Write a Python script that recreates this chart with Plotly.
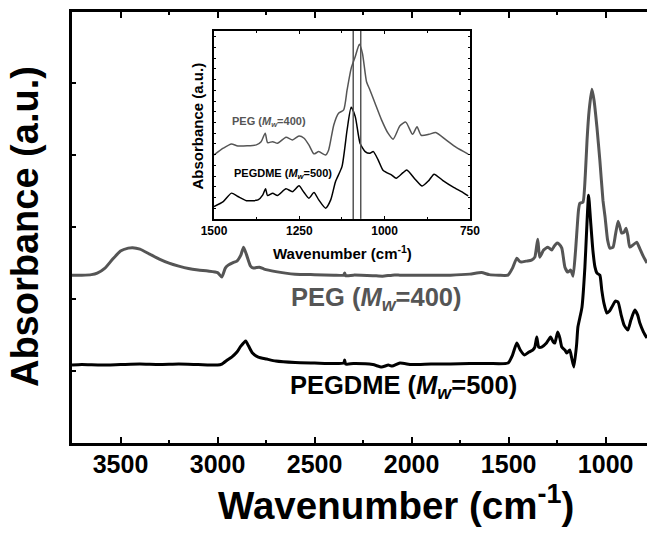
import plotly.graph_objects as go

# ---------------- main spectra (wavenumber, absorbance a.u.) ----------------
peg_wn = [3750, 3700, 3650, 3620, 3580, 3540, 3500, 3460, 3438, 3400, 3350, 3300, 3250, 3200, 3150,
          3100, 3050, 3000, 2978, 2960, 2945, 2920, 2900, 2880, 2866, 2850, 2830, 2815, 2800, 2785,
          2760, 2700, 2650, 2600, 2500, 2400, 2350, 2345, 2340, 2300, 2200, 2150, 2100, 2060, 2000,
          1900, 1800, 1700, 1640, 1600, 1550, 1503, 1480, 1458, 1445, 1434, 1410, 1382, 1365, 1350,
          1340, 1320, 1298, 1278, 1265, 1252, 1240, 1226, 1210, 1195, 1180, 1168, 1155, 1140, 1133,
          1117, 1105, 1096, 1085, 1071, 1060, 1045, 1030, 1014, 1003, 990, 978, 962, 950, 936,
          925, 918, 905, 895, 886, 876, 860, 840, 825, 809, 787]
peg_px = [275, 275, 274.5, 273, 268, 259, 251, 248, 247.5, 249, 254, 259, 263, 266, 268.5,
          270, 271, 272.5, 277, 268, 265, 262.5, 261, 255, 247, 255, 266, 268, 267.5, 267,
          269, 271.5, 273, 274, 274.5, 275, 275, 273, 275.5, 275, 275.5, 276, 275, 275, 275,
          275, 275, 274, 272.5, 274.5, 275, 275, 268, 258, 261, 262, 261, 260, 257, 239,
          257, 250, 247, 250, 246, 243, 244, 248, 267, 272, 270, 276, 250, 210, 203,
          202, 175, 140, 110, 89, 100, 127, 160, 200, 217, 240, 248, 247, 235, 221,
          228, 233, 232, 228, 235, 247, 245, 242, 248, 255, 263]
peg_abs = [round((443 - p) / 72.0, 3) for p in peg_px]

pegdme_wn = [3750, 3700, 3600, 3500, 3400, 3300, 3200, 3100, 3000, 2978, 2950, 2927, 2900, 2880, 2855,
             2840, 2820, 2790, 2747, 2700, 2600, 2500, 2400, 2350, 2345, 2340, 2300, 2200, 2155, 2120,
             2100, 2060, 2000, 1900, 1800, 1700, 1600, 1503, 1480, 1458, 1440, 1418, 1395, 1376, 1365,
             1355, 1345, 1330, 1305, 1284, 1270, 1262, 1247, 1236, 1226, 1210, 1200, 1185, 1175, 1164,
             1150, 1143, 1130, 1122, 1107, 1098, 1088, 1078, 1066, 1055, 1045, 1030, 1020, 1009, 994,
             980, 968, 950, 936, 920, 905, 886, 870, 850, 835, 824, 805, 787]
pegdme_px = [365, 364.5, 365, 364.5, 364, 364.5, 364, 364.5, 365, 364, 360, 357, 352, 346, 341,
             346, 353, 357, 359, 361, 362.5, 363, 363.5, 363, 360, 364, 363.5, 364.5, 367, 365,
             366, 363, 364.5, 364, 364, 363.5, 363.5, 363, 355, 343, 350, 355, 352, 350, 347,
             337, 347, 347, 343, 337, 342, 343, 332, 338, 347, 350, 353, 350, 358, 367,
             345, 327, 315, 307, 267, 230, 195, 220, 250, 267, 273, 275, 290, 303, 313,
             311, 307, 301, 302, 315, 325, 330, 320, 310, 315, 323, 332, 338]
pegdme_abs = [round((443 - p) / 72.0, 3) for p in pegdme_px]

# ---------------- inset spectra (1500-750 cm-1) ----------------
ins_peg_wn = [1500, 1473, 1449, 1430, 1376, 1362, 1350, 1343, 1328, 1314, 1289, 1270, 1251, 1236, 1222,
              1207, 1193, 1173, 1164, 1149, 1135, 1120, 1110, 1098, 1086, 1074, 1065, 1053, 1043, 1028,
              1009, 990, 975, 955, 938, 918, 905, 893, 870, 850, 820, 790, 755]
ins_peg_abs = [3.40, 3.76, 3.99, 3.88, 3.94, 4.11, 4.56, 4.06, 4.11, 4.02, 4.34, 4.20, 4.41, 4.29, 3.94,
               3.46, 3.58, 3.40, 3.67, 5.00, 5.62, 5.80, 6.86, 8.01, 8.64, 9.29, 8.81, 7.30, 6.86, 6.15,
               5.27, 4.56, 4.24, 4.95, 5.15, 4.50, 4.90, 4.45, 4.50, 4.60, 4.20, 3.80, 3.45]

ins_pegdme_wn = [1500, 1473, 1449, 1430, 1405, 1371, 1357, 1349, 1343, 1328, 1314, 1289, 1270, 1251, 1236,
                 1222, 1207, 1193, 1173, 1158, 1144, 1125, 1110, 1098, 1086, 1072, 1057, 1043, 1033, 1019,
                 1004, 980, 966, 946, 935, 910, 890, 870, 855, 830, 800, 770, 755]
ins_pegdme_abs = [0.66, 0.92, 1.37, 1.19, 0.97, 1.01, 1.28, 1.60, 1.24, 1.37, 1.24, 1.60, 1.45, 1.76, 1.40,
                  1.10, 1.40, 1.01, 0.57, 1.01, 1.98, 2.78, 4.73, 5.94, 5.44, 4.02, 3.58, 3.49, 3.58, 3.14,
                  2.57, 2.34, 2.16, 2.46, 2.60, 2.10, 1.75, 2.05, 2.38, 2.05, 1.70, 1.40, 1.22]

marker_lines = [1092, 1070]

x_ticks = [3500, 3000, 2500, 2000, 1500, 1000]
inset_ticks = [1500, 1250, 1000, 750]

GRAY = "#555555"
FONT = "Liberation Sans, Arial, sans-serif"

fig = go.Figure()
fig.add_trace(go.Scatter(x=peg_wn, y=peg_abs, mode="lines",
                         line=dict(color=GRAY, width=3, shape="spline", smoothing=0.5),
                         showlegend=False, xaxis="x", yaxis="y", cliponaxis=True))
fig.add_trace(go.Scatter(x=pegdme_wn, y=pegdme_abs, mode="lines",
                         line=dict(color="black", width=3, shape="spline", smoothing=0.5),
                         showlegend=False, xaxis="x", yaxis="y", cliponaxis=True))
fig.add_trace(go.Scatter(x=ins_peg_wn, y=ins_peg_abs, mode="lines",
                         line=dict(color=GRAY, width=1.5, shape="spline", smoothing=0.6),
                         showlegend=False, xaxis="x2", yaxis="y2"))
fig.add_trace(go.Scatter(x=ins_pegdme_wn, y=ins_pegdme_abs, mode="lines",
                         line=dict(color="black", width=1.5, shape="spline", smoothing=0.6),
                         showlegend=False, xaxis="x2", yaxis="y2"))

for wn in marker_lines:
    fig.add_shape(type="line", xref="x2", yref="y2 domain", x0=wn, x1=wn, y0=0, y1=1,
                  line=dict(color=GRAY, width=1.5))

fig.update_layout(
    width=647, height=533, autosize=False,
    margin=dict(l=72, r=0, t=12, b=90, pad=0, autoexpand=False),
    paper_bgcolor="white", plot_bgcolor="white",
    font=dict(family=FONT, color="black"),
    xaxis=dict(range=[3750, 787], domain=[0, 1], tickvals=x_ticks, automargin=False,
               ticktext=[f"<b>{v}</b>" for v in x_ticks], ticklabelstandoff=-3,
               tickfont=dict(size=25, family=FONT), ticks="inside", ticklen=6, tickwidth=2,
               tickcolor="black", minor=dict(dtick=250, ticks="inside", ticklen=3, tickwidth=2, tickcolor="black"),
               showline=True, linewidth=3, linecolor="black", mirror="ticks",
               showgrid=False, zeroline=False),
    yaxis=dict(range=[0, 5.99], domain=[0, 1], dtick=1, showticklabels=False, automargin=False,
               ticks="inside", ticklen=4, tickwidth=2, tickcolor="black",
               showline=True, linewidth=3, linecolor="black", mirror=False,
               showgrid=False, zeroline=False),
    xaxis2=dict(range=[1500, 750], domain=[0.247, 0.692], anchor="y2", tickvals=inset_ticks,
                ticktext=[f"<b>{v}</b>" for v in inset_ticks], automargin=False,
                tickfont=dict(size=12, family=FONT), ticks="inside", ticklen=3, tickwidth=1,
                tickcolor="black", minor=dict(dtick=125, ticks="inside", ticklen=2, tickwidth=1, tickcolor="black"),
                showline=True, linewidth=1.5, linecolor="black", mirror="ticks",
                showgrid=False, zeroline=False),
    yaxis2=dict(range=[0, 10], domain=[0.520, 0.956], anchor="x2", dtick=0.57, showticklabels=False,
                automargin=False,
                ticks="inside", ticklen=2, tickwidth=1, tickcolor="black",
                showline=True, linewidth=1.5, linecolor="black", mirror="ticks",
                showgrid=False, zeroline=False),
)

annotations = [
    dict(text="<b>Wavenumber (cm<sup>-1</sup>)</b>", x=0.563, y=-0.139, xref="paper", yref="paper",
         xanchor="center", yanchor="middle", showarrow=False, font=dict(size=38.5, family=FONT)),
    dict(text="<b>Absorbance (a.u.)</b>", x=-0.082, y=0.503, xref="paper", yref="paper",
         xanchor="center", yanchor="middle", textangle=-90, showarrow=False, font=dict(size=38, family=FONT)),
    dict(text="<b>PEG (<i>M</i><sub><i>w</i></sub>=400)</b>", x=0.377, y=0.334, xref="paper", yref="paper",
         xanchor="left", yanchor="middle", showarrow=False, font=dict(size=25.5, family=FONT, color=GRAY)),
    dict(text="<b>PEGDME (<i>M</i><sub><i>w</i></sub>=500)</b>", x=0.375, y=0.13, xref="paper", yref="paper",
         xanchor="left", yanchor="middle", showarrow=False, font=dict(size=25.5, family=FONT)),
    dict(text="<b>Wavenumber (cm<sup>-1</sup>)</b>", x=0.47, y=0.443, xref="paper", yref="paper",
         xanchor="center", yanchor="middle", showarrow=False, font=dict(size=15, family=FONT)),
    dict(text="<b>Absorbance (a.u.)</b>", x=0.218, y=0.735, xref="paper", yref="paper",
         xanchor="center", yanchor="middle", textangle=-90, showarrow=False, font=dict(size=15, family=FONT)),
    dict(text="<b>PEG (<i>M</i><sub><i>w</i></sub>=400)</b>", x=0.275, y=0.745, xref="paper", yref="paper",
         xanchor="left", yanchor="middle", showarrow=False, font=dict(size=11, family=FONT, color=GRAY)),
    dict(text="<b>PEGDME (<i>M</i><sub><i>w</i></sub>=500)</b>", x=0.279, y=0.625, xref="paper", yref="paper",
         xanchor="left", yanchor="middle", showarrow=False, font=dict(size=11, family=FONT)),
]
fig.update_layout(annotations=annotations)

fig.write_html("out.html", config={"displayModeBar": False})
